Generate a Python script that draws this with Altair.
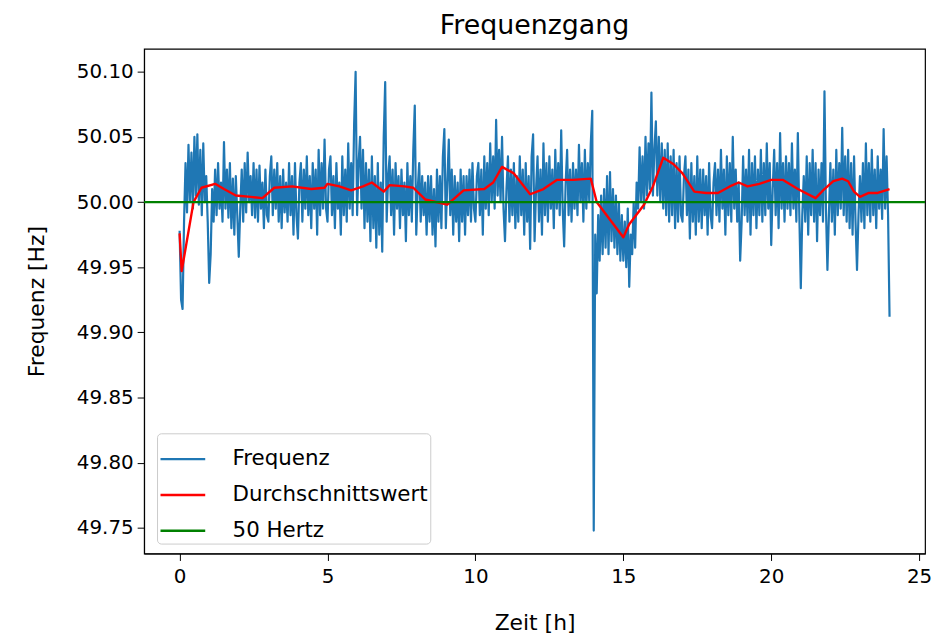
import altair as alt
import pandas as pd

# Frequenz (blue): one reading every 0.05 h (20 per hour)
freq = [
    # 0 h
    49.978, 49.925, 49.918, 49.985, 50.030, 49.992, 50.044, 50.000, 50.038, 49.995,
    50.050, 50.005, 50.052, 49.998, 50.040, 49.990, 50.045, 50.000, 50.020, 49.985,
    # 1 h
    49.938, 49.960, 50.010, 49.985, 50.025, 49.990, 50.030, 49.995, 50.015, 49.985,
    50.046, 49.995, 50.025, 49.988, 50.030, 49.980, 50.018, 49.975, 50.020, 49.990,
    # 2 h
    49.958, 49.995, 50.025, 49.985, 50.030, 49.992, 50.038, 50.000, 50.020, 49.990,
    50.030, 49.988, 50.025, 49.985, 50.028, 49.995, 50.015, 49.980, 50.025, 49.990,
    # 3 h
    49.985, 50.020, 50.035, 49.990, 50.025, 49.995, 50.030, 49.985, 50.020, 49.980,
    50.025, 49.992, 50.015, 49.985, 50.030, 49.990, 50.020, 49.975, 50.030, 49.990,
    # 4 h
    49.972, 50.015, 50.030, 49.985, 50.025, 49.995, 50.035, 49.990, 50.020, 49.980,
    50.030, 49.995, 50.025, 49.975, 50.040, 49.990, 50.030, 49.995, 50.048, 49.995,
    # 5 h
    49.985, 50.025, 50.035, 49.990, 50.020, 49.980, 50.030, 49.995, 50.015, 49.975,
    50.035, 49.990, 50.025, 49.985, 50.045, 49.995, 50.030, 49.990, 50.060, 50.100,
    # 6 h
    49.990, 50.030, 50.050, 49.995, 50.040, 49.980, 50.030, 49.985, 50.025, 49.970,
    50.035, 49.980, 50.020, 49.965, 50.030, 49.975, 50.015, 49.962, 50.050, 50.092,
    # 7 h
    49.985, 50.020, 50.035, 49.990, 50.025, 49.975, 50.030, 49.995, 50.020, 49.980,
    50.025, 49.990, 50.015, 49.970, 50.030, 49.990, 50.020, 49.985, 50.040, 50.074,
    # 8 h
    49.975, 50.010, 50.030, 49.985, 50.020, 49.990, 50.015, 49.975, 50.020, 49.985,
    50.020, 49.975, 50.010, 49.966, 50.025, 49.985, 50.020, 49.980, 50.035, 50.056,
    # 9 h
    49.980, 50.015, 50.048, 49.990, 50.025, 49.975, 50.020, 49.985, 50.015, 49.970,
    50.025, 49.985, 50.020, 49.975, 50.020, 49.990, 50.025, 49.985, 50.030, 49.995,
    # 10 h
    49.985, 50.020, 50.030, 49.990, 50.025, 49.975, 50.035, 49.995, 50.030, 49.990,
    50.045, 50.000, 50.035, 49.995, 50.063, 50.005, 50.040, 50.000, 50.050, 49.995,
    # 11 h
    49.970, 50.010, 50.035, 49.985, 50.025, 49.990, 50.030, 49.980, 50.020, 49.985,
    50.035, 49.990, 50.025, 49.975, 50.030, 49.985, 50.020, 49.964, 50.035, 50.052,
    # 12 h
    49.970, 50.010, 50.035, 49.985, 50.025, 49.975, 50.045, 49.990, 50.030, 49.985,
    50.035, 49.995, 50.025, 49.980, 50.040, 49.995, 50.030, 49.990, 50.055, 49.995,
    # 13 h
    49.966, 50.015, 50.040, 49.990, 50.025, 49.985, 50.030, 49.995, 50.025, 49.990,
    50.044, 50.000, 50.030, 49.985, 50.040, 49.995, 50.030, 50.000, 50.045, 50.070,
    # 14 h
    49.748, 49.975, 49.930, 49.990, 49.955, 50.005, 49.960, 50.010, 49.965, 50.020,
    49.960, 50.023, 49.970, 50.010, 49.965, 50.005, 49.960, 50.000, 49.955, 49.990,
    # 15 h
    49.955, 49.985, 49.950, 49.995, 49.935, 49.975, 49.960, 50.000, 49.965, 50.015,
    49.995, 50.042, 50.000, 50.035, 49.995, 50.050, 50.005, 50.045, 50.010, 50.084,
    # 16 h
    50.005, 50.040, 50.062, 50.005, 50.050, 50.000, 50.045, 49.995, 50.040, 49.990,
    50.045, 49.985, 50.035, 49.990, 50.040, 49.980, 50.030, 49.985, 50.035, 49.990,
    # 17 h
    49.985, 50.020, 50.035, 49.990, 50.025, 49.972, 50.030, 49.985, 50.020, 49.975,
    50.035, 49.985, 50.025, 49.980, 50.025, 49.990, 50.020, 49.975, 50.030, 49.990,
    # 18 h
    49.980, 50.015, 50.030, 49.990, 50.025, 49.985, 50.040, 49.995, 50.025, 49.975,
    50.035, 49.990, 50.030, 49.985, 50.050, 49.995, 50.025, 49.985, 50.015, 49.955,
    # 19 h
    49.985, 50.035, 49.990, 50.025, 49.985, 50.040, 49.975, 50.030, 49.990, 50.035,
    49.980, 50.025, 49.990, 50.040, 49.985, 50.030, 49.990, 50.045, 49.995, 50.030,
    # 20 h
    49.967, 50.010, 50.040, 49.990, 50.030, 49.980, 50.053, 49.995, 50.030, 49.985,
    50.035, 49.995, 50.030, 49.990, 50.045, 49.995, 50.025, 49.985, 50.053, 49.990,
    # 21 h
    49.934, 49.990, 50.020, 49.985, 50.035, 49.975, 50.030, 49.990, 50.040, 49.985,
    50.030, 49.970, 50.025, 49.990, 50.030, 49.985, 50.085, 49.995, 49.948, 49.990,
    # 22 h
    50.030, 49.985, 50.025, 49.975, 50.040, 49.990, 50.030, 49.995, 50.057, 49.990,
    50.035, 49.985, 50.040, 49.980, 50.030, 49.975, 50.035, 49.985, 49.948, 49.990,
    # 23 h
    50.020, 49.985, 50.030, 49.980, 50.045, 49.990, 50.030, 49.985, 50.040, 49.990,
    50.025, 49.980, 50.035, 49.995, 50.025, 49.987, 50.056, 49.995, 50.035, 49.990,
    # 24 h
    49.912,
]
step_h = 0.05
hours = [round(i * step_h, 3) for i in range(len(freq))]

# Durchschnittswert (red)
red_t = [0.0, 0.07, 0.47, 0.74, 1.2, 1.5, 1.9, 2.4, 2.8, 3.2, 3.8, 4.45, 4.9, 5.0,
         5.4, 5.8, 6.2, 6.5, 6.9, 7.1, 7.6, 7.9, 8.3, 9.05, 9.6, 10.3, 10.6, 10.9,
         11.3, 11.85, 12.3, 12.75, 13.3, 13.9, 14.1, 14.5, 15.0, 15.2, 15.7, 16.0,
         16.35, 16.7, 17.0, 17.4, 17.8, 18.2, 18.6, 18.9, 19.2, 19.6, 20.0, 20.4,
         20.9, 21.5, 21.8, 22.1, 22.4, 22.6, 22.8, 23.0, 23.3, 23.6, 24.0]
red_f = [49.976, 49.947, 50.000, 50.011, 50.014, 50.010, 50.005, 50.004, 50.003,
         50.011, 50.012, 50.010, 50.011, 50.014, 50.012, 50.009, 50.012, 50.015,
         50.008, 50.013, 50.012, 50.011, 50.002, 49.998, 50.009, 50.010, 50.015,
         50.027, 50.022, 50.006, 50.010, 50.017, 50.017, 50.018, 50.000, 49.988,
         49.973, 49.983, 49.998, 50.012, 50.034, 50.029, 50.022, 50.008, 50.007,
         50.007, 50.012, 50.015, 50.012, 50.014, 50.017, 50.017, 50.010, 50.003,
         50.010, 50.016, 50.018, 50.016, 50.008, 50.004, 50.007, 50.007, 50.010]

# 50 Hertz reference (green)
ref_t = [-1.2, 25.2]
ref_f = [50.0, 50.0]

series = ["Frequenz", "Durchschnittswert", "50 Hertz"]
colors = ["#1f77b4", "#ff0000", "#008000"]
x_ticks = [0, 5, 10, 15, 20, 25]
y_ticks = [49.75, 49.80, 49.85, 49.90, 49.95, 50.00, 50.05, 50.10]

df_f = pd.DataFrame({"t": hours, "f": freq, "s": series[0]})
df_r = pd.DataFrame({"t": red_t, "f": red_f, "s": series[1]})
df_g = pd.DataFrame({"t": ref_t, "f": ref_f, "s": series[2]})

FONT = "DejaVu Sans"

x = alt.X("t:Q",
          scale=alt.Scale(domain=[-1.2, 25.2], nice=False, zero=False),
          axis=alt.Axis(values=x_ticks, title="Zeit [h]", format="d",
                        labelPadding=6, titlePadding=26))
y = alt.Y("f:Q",
          scale=alt.Scale(domain=[49.7304, 50.1176], nice=False, zero=False),
          axis=alt.Axis(values=y_ticks, title="Frequenz [Hz]", format=".2f",
                        labelPadding=4, titlePadding=28))
color = alt.Color("s:N",
                  scale=alt.Scale(domain=series, range=colors),
                  legend=alt.Legend(title=None, orient="none", legendX=13, legendY=387,
                                    symbolType="stroke", symbolSize=2025,
                                    symbolStrokeWidth=2.5, labelFontSize=21.5,
                                    labelFont=FONT, labelColor="black", labelLimit=0,
                                    padding=2, rowPadding=1, labelOffset=26,
                                    strokeColor="#cccccc", cornerRadius=4,
                                    fillColor="white"))

blue = alt.Chart(df_f).mark_line(strokeWidth=2.2, strokeJoin="round").encode(x=x, y=y, color=color)
red = alt.Chart(df_r).mark_line(strokeWidth=2.4, strokeJoin="round").encode(x=x, y=y, color=color)
green = alt.Chart(df_g).mark_line(strokeWidth=2.4).encode(x=x, y=y, color=color)

chart = (
    alt.layer(blue, red, green)
    .properties(
        width=786, height=508,
        title=alt.TitleParams("Frequenzgang", fontSize=27, font=FONT, fontWeight="normal",
                              anchor="middle", offset=9, color="black"),
        autosize=alt.AutoSizeParams(type="none"),
        padding={"left": 137, "top": 39, "right": 7, "bottom": 84},
    )
    .configure_view(stroke="black", strokeWidth=1.2)
    .configure_axis(grid=False, domainColor="black", tickColor="black",
                    labelColor="black", titleColor="black", labelFont=FONT,
                    titleFont=FONT, labelFontSize=20, titleFontSize=22,
                    titleFontWeight="normal", tickSize=7)
)

chart.save("out.html", embed_options={"renderer": "svg", "actions": False})
